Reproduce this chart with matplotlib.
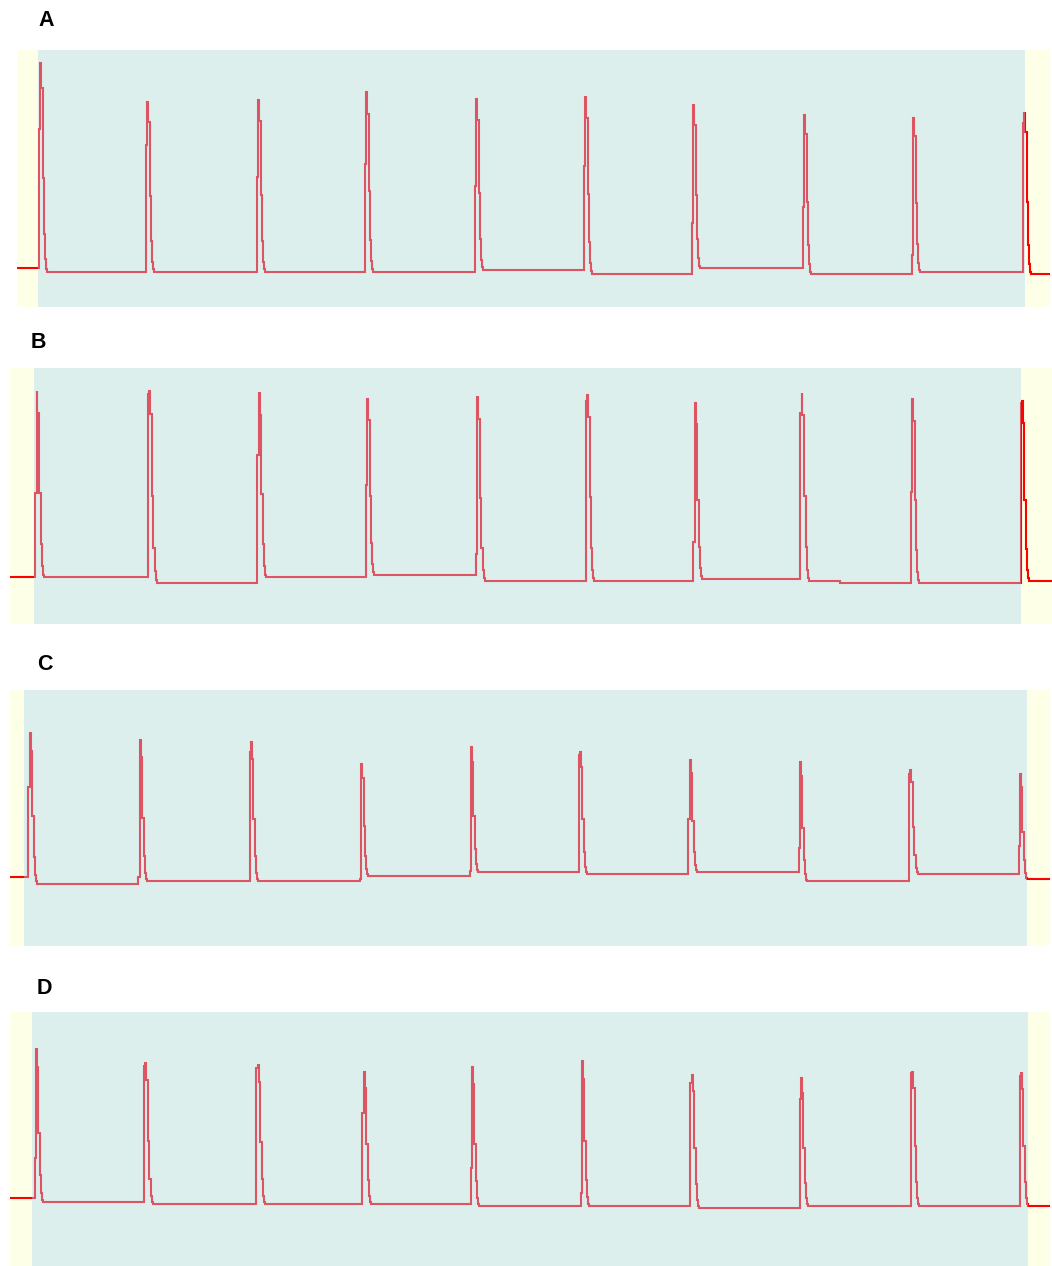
import matplotlib
matplotlib.use("Agg")
import matplotlib.pyplot as plt
import numpy as np

plt.rcParams['font.family'] = ['Liberation Sans', 'DejaVu Sans']

# ---------------- data (time in samples, amplitude in arbitrary units) ----------------
labels = ["A", "B", "C", "D"]

# peak times per panel
peak_t_A = [23, 130, 241, 349, 459, 568, 676, 787, 896, 1007]
peak_t_B = [26.5, 139.4, 248.6, 357.1, 467.3, 577.2, 684.7, 791.5, 902.1, 1011.9]
peak_t_C = [19.7, 129.6, 240.8, 351, 460.8, 569.8, 679.7, 789.8, 900.4, 1009.9]
peak_t_D = [25.8, 135.3, 247.6, 353.7, 461.9, 571.8, 681.7, 790.9, 902.1, 1010.9]

# peak amplitudes
peak_v_A = [244, 205, 207, 215, 208, 210, 202, 192, 189, 194]
peak_v_B = [233.3, 233.3, 231.3, 225, 227.3, 229, 220.7, 231.3, 225, 222.7]
peak_v_C = [213.3, 206, 203.7, 181.7, 198.7, 193.7, 186.3, 184, 176.3, 171.7]
peak_v_D = [217.3, 202.7, 200.7, 194.3, 198.7, 204.7, 190.7, 188.3, 194.3, 192.7]

# fraction of the rise reached on the sample before the peak
pre_A = [0.68, 0.75, 0.55, 0.6, 0.5, 0.6, 0.3, 0.4, 0.12, 0.94]
pre_B = [0.45, 0.98, 0.67, 0.52, 0.12, 0.97, 0.22, 0.89, 0.49, 0.99]
pre_C = [0.62, 0.05, 0.93, 0.02, 0.04, 0.98, 0.48, 0.22, 0.96, 0.28]
pre_D = [0.27, 0.98, 0.98, 0.69, 0.26, 0.09, 0.94, 0.84, 0.99, 0.98]

# resting levels: before first spike, then after each spike
base_A = [39, 35, 35, 35, 35, 37, 33, 39, 33, 35, 33]
base_B = [46.7, 46.7, 41, 46.7, 49, 43, 43, 45, 43, 41, 43]
base_C = [69.3, 62.3, 64.7, 64.7, 70, 74.3, 72, 74.3, 64.7, 72, 66.7]
base_D = [67.7, 63.7, 62, 62, 62, 60, 60, 57.7, 60, 60, 60]

# additional baseline shifts inside an interval: (time, level)
shifts_A = []
shifts_B = [(829.7, 41)]
shifts_C = []
shifts_D = []

# decay profile after the peak (offset in samples, fraction of amplitude)
decay_off = [0, 0.9, 2.5, 4.0, 5.2, 6.2, 7.2]
decay_frac = [1.0, 0.88, 0.45, 0.18, 0.06, 0.015, 0.0]
pre_off = -1.3

# panel layout in pixels: (left, top, right, bottom), shaded region (start, end) relative
panels_px = [(17, 50, 1050, 307), (10, 368, 1052, 624), (10, 690, 1050, 946), (10, 1012, 1050, 1266)]
shade = [(21, 1008), (24, 1011), (14, 1017), (22, 1018)]
label_px = [(38, 20), (31, 342), (37, 665), (37, 988)]

peak_t = [peak_t_A, peak_t_B, peak_t_C, peak_t_D]
peak_v = [peak_v_A, peak_v_B, peak_v_C, peak_v_D]
pres = [pre_A, pre_B, pre_C, pre_D]
bases = [base_A, base_B, base_C, base_D]
shifts = [shifts_A, shifts_B, shifts_C, shifts_D]

W, H = 1052, 1266
fig = plt.figure(figsize=(W / 100, H / 100), dpi=100)
fig.patch.set_facecolor("white")


def build_trace(pt, pv, pre, base, sh, width):
    xs = [0.0]
    ys = [base[0]]
    events = []
    for i in range(len(pt)):
        t, v = pt[i], pv[i]
        b0, b1 = base[i], base[i + 1]
        ev = [(t + pre_off, b0 + pre[i] * (v - b0))]
        for o, f in zip(decay_off, decay_frac):
            ev.append((t + o, b1 + f * (v - b1)))
        events.extend(ev)
    events.extend(sh)
    events.sort(key=lambda e: e[0])
    for x, y in events:
        xs.append(x)
        ys.append(y)
    xs.append(width)
    ys.append(ys[-1])
    return np.array(xs), np.array(ys)


for k in range(4):
    l, t, r, b = panels_px[k]
    wpx, hpx = r - l, b - t
    ax = fig.add_axes([l / W, 1 - b / H, wpx / W, hpx / H])
    ax.set_facecolor("#fdffe6")
    ax.set_xlim(0, wpx)
    ax.set_ylim(0, hpx)
    for s in ax.spines.values():
        s.set_visible(False)
    ax.set_xticks([])
    ax.set_yticks([])
    xs, ys = build_trace(peak_t[k], peak_v[k], pres[k], bases[k], shifts[k], wpx)
    ax.plot(xs, ys, drawstyle="steps-post", color="#ff0000", lw=1.5, zorder=2,
            solid_joinstyle="miter")
    ax.axvspan(shade[k][0], shade[k][1], color="#acd7fa", alpha=0.4, lw=0, zorder=3)
    fig.text(label_px[k][0] / W, 1 - label_px[k][1] / H, labels[k], fontsize=15.5,
             fontweight="bold", ha="left", va="center")

fig.savefig("out.png", dpi=100, facecolor="white")
